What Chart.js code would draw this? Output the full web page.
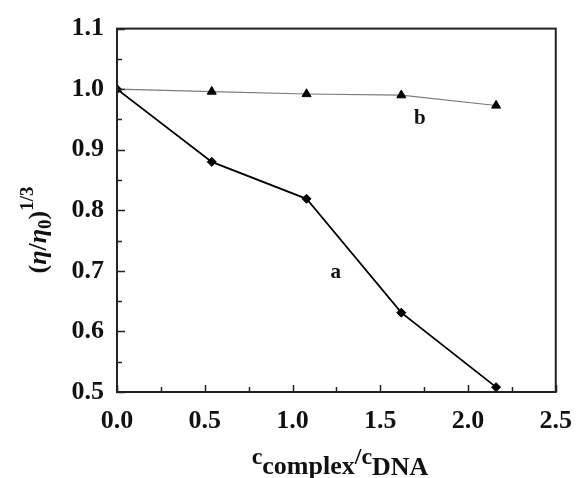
<!DOCTYPE html>
<html>
<head>
<meta charset="utf-8">
<script src="https://cdn.jsdelivr.net/npm/chart.js@4.4.1/dist/chart.umd.min.js"></script>
<style>
  body { margin: 0; background: #fff; }
  #wrap { width: 586px; height: 478px; }
</style>
</head>
<body>
<div id="wrap"><canvas id="myChart" width="586" height="478"></canvas></div>
<script>
// values
const ratio = [0, 0.54, 1.08, 1.62, 2.16];
const curveA = [1.0, 0.88, 0.819, 0.631, 0.508];
const curveB = [1.0, 0.996, 0.992, 0.990, 0.973];
const curveNames = ['a', 'b'];
const curveNamePos = [[1.247, 0.697], [1.726, 0.951]];

const serif = '"Liberation Serif", "Times New Roman", serif';

function toPoints(xs, ys) {
    let pts = [];
    for (let i = 0; i < xs.length; i++) {
        pts.push({ x: xs[i], y: ys[i] });
    }
    return pts;
}

// draw a row of text pieces (sub/superscripts) centered on cx
function drawRuns(ctx, runs, cx, baseY) {
    let total = 0;
    for (let r of runs) {
        ctx.font = r.font;
        r.w = ctx.measureText(r.t).width;
        total += r.w;
    }
    let x = cx - total / 2;
    ctx.textAlign = 'left';
    ctx.textBaseline = 'alphabetic';
    for (let r of runs) {
        ctx.font = r.font;
        ctx.fillText(r.t, x, baseY + (r.dy || 0));
        x += r.w;
    }
}

const framePlugin = {
    id: 'frame',
    afterDraw(chart) {
        const ctx = chart.ctx;
        const a = chart.chartArea;
        const xs = chart.scales.x;
        const ys = chart.scales.y;
        ctx.save();
        ctx.strokeStyle = '#222';
        ctx.lineWidth = 1.5;
        // inward ticks
        ctx.beginPath();
        for (let v = 0; v <= 2.5001; v += 0.25) {
            const px = Math.round(xs.getPixelForValue(v)) + 0.5;
            const len = (Math.round(v * 100) % 50 === 0) ? 7 : 5;
            ctx.moveTo(px, a.bottom);
            ctx.lineTo(px, a.bottom - len);
        }
        for (let v = 0.5; v <= 1.1001; v += 0.05) {
            const py = Math.round(ys.getPixelForValue(v)) + 0.5;
            const len = (Math.round(v * 100) % 10 === 0) ? 8 : 5;
            ctx.moveTo(a.left, py);
            ctx.lineTo(a.left + len, py);
        }
        ctx.stroke();
        // box
        ctx.lineWidth = 2;
        ctx.strokeRect(a.left, a.top, a.right - a.left, a.bottom - a.top);

        // curve names
        ctx.fillStyle = '#111';
        ctx.font = 'bold 21px ' + serif;
        ctx.textAlign = 'center';
        ctx.textBaseline = 'middle';
        for (let i = 0; i < curveNames.length; i++) {
            ctx.fillText(curveNames[i], xs.getPixelForValue(curveNamePos[i][0]), ys.getPixelForValue(curveNamePos[i][1]));
        }

        // x title
        const big = 'bold 26px ' + serif;
        const cFont = 'bold 24px ' + serif;
        drawRuns(ctx, [
            { t: 'c', font: cFont, dy: 0 },
            { t: 'complex', font: big, dy: 10 },
            { t: '/', font: cFont, dy: 0 },
            { t: 'c', font: cFont, dy: 0 },
            { t: 'DNA', font: big, dy: 11 }
        ], 340, 464);

        // y title
        ctx.translate(46, 230);
        ctx.rotate(-Math.PI / 2);
        const it = 'italic bold 26px ' + serif;
        const small = 'bold 19px ' + serif;
        drawRuns(ctx, [
            { t: '(', font: big },
            { t: 'η', font: it },
            { t: '/', font: big },
            { t: 'η', font: it },
            { t: '0', font: small, dy: 5 },
            { t: ')', font: big },
            { t: '1/3', font: small, dy: -13 }
        ], 0, 0);
        ctx.restore();
    }
};

const ctx = document.getElementById('myChart');

new Chart(ctx, {
    type: 'line',
    data: {
        datasets: [{
            label: 'a',
            data: toPoints(ratio, curveA),
            borderColor: '#000',
            borderWidth: 1.8,
            pointStyle: 'rectRot',
            pointRadius: 4.5,
            pointBackgroundColor: '#000',
            pointBorderColor: '#000',
            pointBorderWidth: 1,
            clip: 0
        },
        {
            label: 'b',
            data: toPoints(ratio, curveB),
            borderColor: '#7a7a7a',
            borderWidth: 1.2,
            pointStyle: 'triangle',
            pointRadius: 5.2,
            pointBackgroundColor: '#000',
            pointBorderColor: '#000',
            pointBorderWidth: 1,
            clip: 0
        }]
    },
    options: {
        responsive: false,
        animation: false,
        events: [],
        layout: { padding: { left: 0, right: 18, top: 26, bottom: 0 } },
        plugins: {
            legend: { display: false },
            tooltip: { enabled: false }
        },
        scales: {
            x: {
                type: 'linear',
                min: 0,
                max: 2.5,
                grid: { display: false, drawTicks: false },
                border: { display: false },
                ticks: {
                    stepSize: 0.5,
                    padding: 14,
                    color: '#111',
                    font: { family: serif, size: 26, weight: 'bold' },
                    maxRotation: 0,
                    callback: v => v.toFixed(1)
                },
                afterFit: s => { s.height = 86; }
            },
            y: {
                type: 'linear',
                min: 0.5,
                max: 1.1,
                grid: { display: false, drawTicks: false },
                border: { display: false },
                ticks: {
                    stepSize: 0.1,
                    padding: 13,
                    color: '#111',
                    font: { family: serif, size: 26, weight: 'bold' },
                    callback: v => v.toFixed(1)
                },
                afterFit: s => { s.width = 117; }
            }
        }
    },
    plugins: [framePlugin]
});
</script>
</body>
</html>
